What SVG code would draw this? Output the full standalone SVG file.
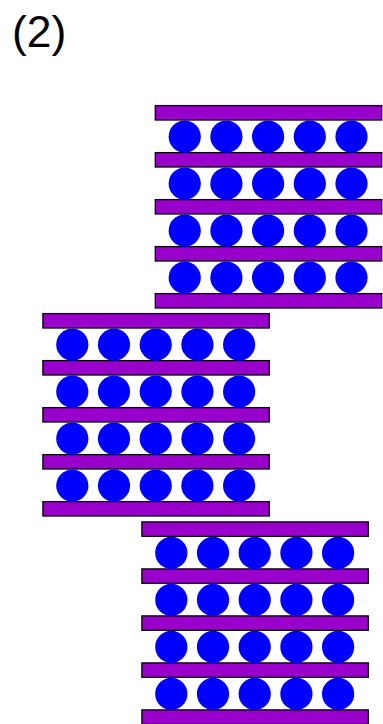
<svg xmlns="http://www.w3.org/2000/svg" xmlns:xlink="http://www.w3.org/1999/xlink" width="383" height="724" viewBox="0 0 383 724">
<style>
.bar{fill:#9900CC;stroke:#000;stroke-width:1.3}
.ball{fill:#0000FF}
.lbl{font-family:"Liberation Sans",Arial,sans-serif;font-size:44.5px;fill:#000}
</style>
<defs>
<g id="stackdef">
<rect class="bar" x="0" y="0" width="226.4" height="14.4"/>
<rect class="bar" x="0" y="47" width="226.4" height="14.4"/>
<rect class="bar" x="0" y="94" width="226.4" height="14.4"/>
<rect class="bar" x="0" y="141" width="226.4" height="14.4"/>
<rect class="bar" x="0" y="188" width="226.4" height="14.4"/>
<g id="row">
<circle class="ball" cx="29.4" cy="31" r="16.1"/>
<circle class="ball" cx="71.1" cy="31" r="16.1"/>
<circle class="ball" cx="112.8" cy="31" r="16.1"/>
<circle class="ball" cx="154.5" cy="31" r="16.1"/>
<circle class="ball" cx="196.2" cy="31" r="16.1"/>
</g>
<use xlink:href="#row" href="#row" y="47"/>
<use xlink:href="#row" href="#row" y="94"/>
<use xlink:href="#row" href="#row" y="141"/>
</g>
</defs>
<text class="lbl" x="12" y="46.5">(2)</text>
<g id="stack-top"><use xlink:href="#stackdef" href="#stackdef" x="155.3" y="105.6"/></g>
<g id="stack-middle"><use xlink:href="#stackdef" href="#stackdef" x="42.9" y="313.6"/></g>
<g id="stack-bottom"><use xlink:href="#stackdef" href="#stackdef" x="141.9" y="521.9"/></g>
</svg>
